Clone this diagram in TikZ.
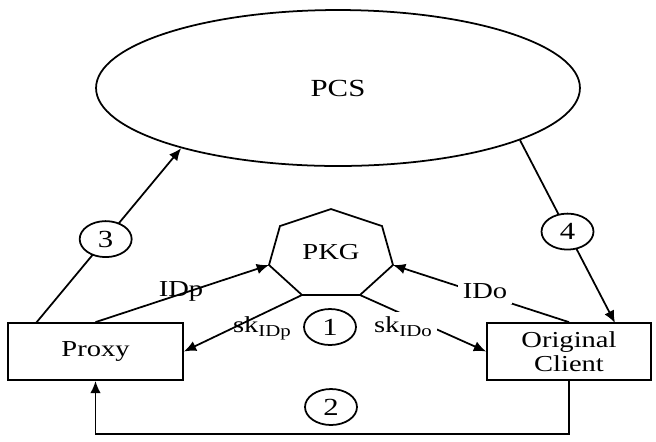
\documentclass[tikz,border=0pt]{standalone}
\usepackage{fontspec}
\setmainfont{Liberation Serif}[FakeStretch=1.25]
\usetikzlibrary{shapes.geometric,arrows.meta}
\tikzset{
  party/.style={draw, line width=1pt, minimum height=1.14cm, align=center, font=\fontsize{13}{13.5}\selectfont},
  stepno/.style={draw, ellipse, line width=1pt, fill=white, minimum width=1.04cm, minimum height=0.72cm, inner sep=0pt, font=\fontsize{14}{15}\selectfont},
  link/.style={line width=1pt},
  msg/.style={link, -{Latex[length=7pt,width=6pt]}},
  lbl/.style={font=\fontsize{13}{14}\selectfont, inner sep=1pt},
}
\newcommand{\skey}[1]{sk\raisebox{-0.4ex}{\fontsize{9.5}{10}\selectfont #1}}
\begin{document}
\begin{tikzpicture}[x=0.02cm, y=-0.02cm]
        \useasboundingbox (0,0) rectangle (656,441);
        \node[draw, ellipse, line width=1pt, minimum width=9.68cm, minimum height=3.12cm, font=\fontsize{14}{15}\selectfont] (pcs) at (338,88) {PCS};
        \node[party, minimum width=3.5cm] (proxy) at (95.5,351.5) {Proxy};
        \node[party, minimum width=3.28cm] (client) at (569,351.5) {Original\\Client};
        % PKG polygon
        \coordinate (kT) at (331,209);
        \coordinate (kUR) at (382,226);
        \coordinate (kR) at (393,265);
        \coordinate (kBR) at (360,295);
        \coordinate (kBL) at (302,295);
        \coordinate (kL) at (269,265);
        \coordinate (kUL) at (280,226);
        \path[draw,link] (kT) -- (kUR) -- (kR) -- (kBR) -- (kBL) -- (kL) -- (kUL) -- cycle;
        \node[lbl] (pkg) at (331,252) {PKG};
        % key requests and replies
        \path[draw,msg] (proxy.north) -- (kL);
        \path[draw,msg] (client.north) -- (kR);
        \path[draw,msg] (kBL) -- (proxy.east);
        \path[draw,msg] (kBR) -- (client.west);
        \node[lbl] (idp) at (181,291) {IDp};
        \node[lbl, fill=white, inner sep=3pt] (ido) at (485,291) {IDo};
        \node[lbl] (skp) at (262,328) {\skey{IDp}};
        \node[lbl, fill=white, inner sep=3pt] (sko) at (403,327) {\skey{IDo}};
        \node[stepno] (n1) at (330,327) {1};
        % cloud traffic
        \path[draw,msg] (36,323) -- node[stepno, pos=0.48] (n3) {3} (pcs.201);
        \path[draw,msg] (pcs.344) -- node[stepno, pos=0.5] (n4) {4} (615,323);
        \path[draw,msg] (client.south) -- ++(0,53) -| (proxy.south);
        \node[stepno] (n2) at (331,407) {2};
\end{tikzpicture}
\end{document}
